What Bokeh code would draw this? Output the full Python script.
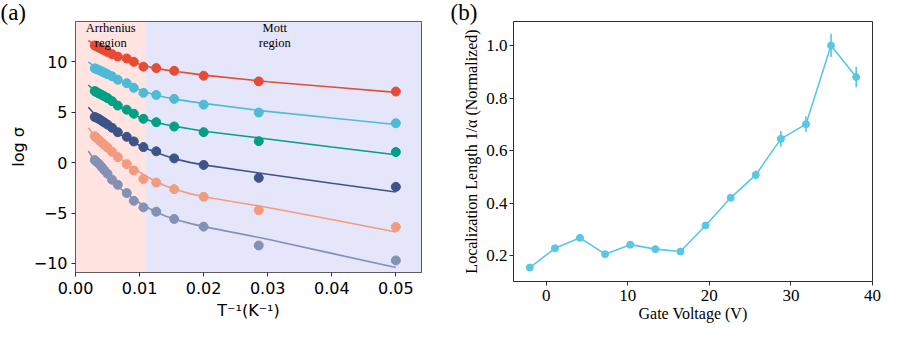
from bokeh.plotting import figure
from bokeh.layouts import row
from bokeh.models import BoxAnnotation, Label, FixedTicker, PrintfTickFormatter
from bokeh.embed import file_html
from bokeh.resources import INLINE

# ---------------- Panel (a) data ----------------
inv_T = [0.0030, 0.0033, 0.0037, 0.0041, 0.0045, 0.0050, 0.0057, 0.0066,
         0.0080, 0.0091, 0.0106, 0.0126, 0.0154, 0.0200, 0.0286, 0.0500]
red_pts = [11.62, 11.52, 11.40, 11.27, 11.13, 10.98, 10.76, 10.52,
           10.33, 10.00, 9.52, 9.38, 9.11, 8.62, 8.06, 7.05]
cyan_pts = [9.35, 9.27, 9.17, 9.05, 8.92, 8.77, 8.56, 8.22,
            7.88, 7.42, 6.92, 6.71, 6.32, 5.75, 4.97, 3.91]
green_pts = [7.10, 6.98, 6.85, 6.72, 6.58, 6.40, 6.10, 5.66,
             5.25, 4.85, 4.35, 4.01, 3.58, 3.02, 2.13, 1.05]
navy_pts = [4.53, 4.45, 4.32, 4.15, 3.98, 3.77, 3.46, 3.02,
            2.56, 2.10, 1.54, 1.12, 0.42, -0.23, -1.51, -2.40]
salmon_pts = [2.62, 2.45, 2.22, 1.98, 1.76, 1.50, 1.08, 0.55,
              -0.15, -0.78, -1.62, -1.98, -2.63, -3.39, -4.72, -6.38]
slate_pts = [0.25, 0.08, -0.15, -0.45, -0.75, -1.10, -1.70, -2.20,
             -3.02, -3.79, -4.44, -4.87, -5.59, -6.35, -8.22, -9.70]

fit_x = [0.002, 0.003, 0.004, 0.006, 0.008, 0.010, 0.012, 0.014,
         0.016, 0.018, 0.020, 0.030, 0.040, 0.050]
red_fit = [12.1, 11.75, 11.4, 10.75, 10.2, 9.75, 9.42, 9.2, 9.02, 8.85, 8.68, 8.03, 7.5, 6.97]
cyan_fit = [10.0, 9.5, 9.1, 8.4, 7.8, 7.22, 6.78, 6.48, 6.25, 6.05, 5.88, 5.08, 4.42, 3.78]
green_fit = [7.7, 7.15, 6.7, 5.85, 5.1, 4.5, 4.08, 3.78, 3.55, 3.33, 3.12, 2.35, 1.55, 0.78]
navy_fit = [5.5, 4.8, 4.2, 3.2, 2.4, 1.7, 1.15, 0.68, 0.3, 0.0, -0.22, -1.15, -2.05, -2.92]
salmon_fit = [3.45, 2.65, 2.0, 0.9, -0.1, -0.95, -1.7, -2.3, -2.75, -3.1, -3.38, -4.45, -5.65, -6.88]
slate_fit = [1.15, 0.2, -0.6, -2.0, -3.1, -4.0, -4.72, -5.3, -5.72, -6.05, -6.35, -7.6, -9.0, -10.4]

series_colors = ["#E64B35", "#4DBBD5", "#00A087", "#3C5488", "#F39B7F", "#8491B4"]
region_boundary = 0.011
x_ticks_a = [0.00, 0.01, 0.02, 0.03, 0.04, 0.05]
y_ticks_a = [-10, -5, 0, 5, 10]

# ---------------- Panel (b) data ----------------
gate_v = [-2.0, 1.08, 4.15, 7.23, 10.31, 13.38, 16.46, 19.54,
          22.62, 25.69, 28.77, 31.85, 34.92, 38.0]
loc_len = [0.156, 0.229, 0.269, 0.207, 0.243, 0.226, 0.217, 0.316,
           0.421, 0.508, 0.645, 0.701, 1.000, 0.880]
loc_err = [0.006, 0.007, 0.007, 0.006, 0.007, 0.006, 0.006, 0.008,
           0.012, 0.017, 0.030, 0.030, 0.044, 0.039]
x_ticks_b = [0, 10, 20, 30, 40]
y_ticks_b = [0.2, 0.4, 0.6, 0.8, 1.0]

AX = "#2e2e2e"

def style(p, font, tick_size, label_size):
    p.grid.visible = False
    p.outline_line_color = AX
    p.outline_line_width = 1
    for ax in (p.xaxis, p.yaxis):
        ax.axis_line_color = None
        ax.major_tick_line_color = AX
        ax.major_tick_in = 0
        ax.major_tick_out = 4
        ax.minor_tick_line_color = None
        ax.major_label_text_font = font
        ax.major_label_text_font_size = tick_size
        ax.major_label_text_color = "black"
        ax.axis_label_text_font = font
        ax.axis_label_text_font_size = label_size
        ax.axis_label_text_font_style = "normal"
        ax.axis_label_text_color = "black"

def panel_tag(p, text, offset, standoff):
    p.title.text = text
    p.title.align = "left"
    p.title.offset = offset
    p.title.standoff = standoff
    p.title.text_font = "Liberation Serif"
    p.title.text_font_size = "23px"
    p.title.text_font_style = "normal"
    p.title.text_color = "black"
    p.title.text_line_height = 1.0

# ---------------- Figure (a) ----------------
H = 337
pa = figure(width=449, height=H, x_range=(0, 0.054), y_range=(-10.9, 14.0),
            output_backend="svg", toolbar_location=None, frame_align=False,
            min_border_left=75, min_border_right=28, min_border_top=21, min_border_bottom=65)
style(pa, "DejaVu Sans", "16px", "16px")
pa.add_layout(BoxAnnotation(right=region_boundary, fill_color="#FFE4E1", fill_alpha=1.0, line_color=None, level="underlay"))
pa.add_layout(BoxAnnotation(left=region_boundary, fill_color="#E6E6FA", fill_alpha=1.0, line_color=None, level="underlay"))

fits = [red_fit, cyan_fit, green_fit, navy_fit, salmon_fit, slate_fit]
pts = [red_pts, cyan_pts, green_pts, navy_pts, salmon_pts, slate_pts]
for col, fy, py in zip(series_colors, fits, pts):
    pa.line(fit_x, fy, line_color=col, line_width=1.6)
    pa.scatter(inv_T, py, size=9, fill_color=col, line_color=col)

pa.xaxis.ticker = FixedTicker(ticks=x_ticks_a)
pa.xaxis.formatter = PrintfTickFormatter(format="%.2f")
pa.yaxis.ticker = FixedTicker(ticks=y_ticks_a)
pa.yaxis.major_label_overrides = {-10: "\u221210", -5: "\u22125"}
pa.xaxis.axis_label = "T\u207b\u00b9(K\u207b\u00b9)"
pa.yaxis.axis_label = "log \u03c3"
pa.xaxis.major_label_standoff = 5
pa.yaxis.major_label_standoff = 4
pa.xaxis.axis_label_standoff = 4
pa.yaxis.axis_label_standoff = 3

region_texts = [("Arrhenius", 0.0055, 13.4), ("region", 0.0055, 11.85),
                ("Mott", 0.0311, 13.4), ("region", 0.0311, 11.85)]
for t, x, y in region_texts:
    pa.add_layout(Label(x=x, y=y, text=t, text_font="Liberation Serif",
                        text_font_size="12.5px", text_align="center",
                        text_baseline="middle", text_color="black"))

panel_tag(pa, "(a)", -75, -6)

# ---------------- Figure (b) ----------------
pb = figure(width=448, height=H, x_range=(-4.0, 40.0), y_range=(0.103, 1.091),
            output_backend="svg", toolbar_location=None, frame_align=False,
            min_border_left=64, min_border_right=25, min_border_top=17, min_border_bottom=56)
style(pb, "Liberation Serif", "17px", "16px")
bc = "#58C6E6"
pb.segment(x0=gate_v, y0=[v - e for v, e in zip(loc_len, loc_err)],
           x1=gate_v, y1=[v + e for v, e in zip(loc_len, loc_err)],
           line_color=bc, line_width=1.6)
pb.line(gate_v, loc_len, line_color=bc, line_width=1.6)
pb.scatter(gate_v, loc_len, size=7, fill_color=bc, line_color=bc)
pb.xaxis.ticker = FixedTicker(ticks=x_ticks_b)
pb.yaxis.ticker = FixedTicker(ticks=y_ticks_b)
pb.yaxis.formatter = PrintfTickFormatter(format="%.1f")
pb.xaxis.axis_label = "Gate Voltage (V)"
pb.yaxis.axis_label = "Localization Length 1/\u03b1 (Normalized)"
pb.xaxis.major_label_standoff = 4
pb.yaxis.major_label_standoff = 2
pb.xaxis.axis_label_standoff = 1
pb.yaxis.axis_label_standoff = 3

panel_tag(pb, "(b)", -63, -6)

layout = row(pa, pb)
open("out.html", "w").write(file_html(layout, INLINE))
